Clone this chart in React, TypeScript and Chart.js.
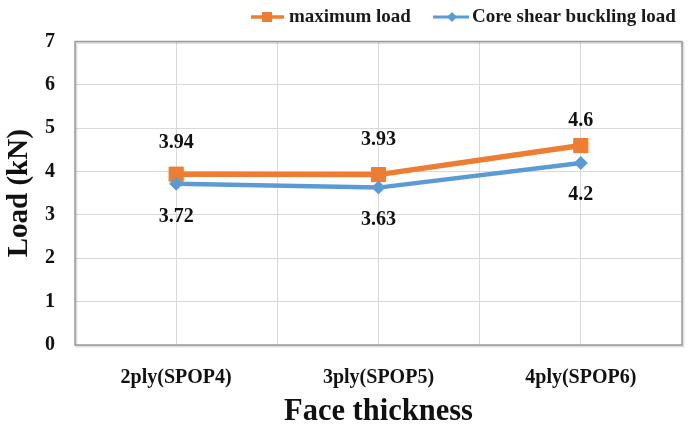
import React, { useEffect, useRef } from "react";
import { Chart, registerables } from "chart.js";

Chart.register(...registerables);

// Specimen groups along the x axis
const categories = ["2ply(SPOP4)", "3ply(SPOP5)", "4ply(SPOP6)"];
// Loads in kN
const maximumLoad = [3.94, 3.93, 4.6];
const coreShearBucklingLoad = [3.72, 3.63, 4.2];
const yTicks = [0, 1, 2, 3, 4, 5, 6, 7];

const ORANGE = "#ED7D31";
const BLUE = "#5B9BD5";
const FONT = "'Liberation Serif', 'Times New Roman', serif";

// Vertical pixel offsets of the value labels from their markers
const maxLabelOffsets = [-31, -35, -25];
const coreLabelOffsets = [33, 32, 32];

const frameAndLabels = {
  id: "frameAndLabels",
  beforeDatasetsDraw(chart: any) {
    const { ctx, chartArea: a } = chart;
    ctx.save();
    // soft shadow of the plot frame
    ctx.strokeStyle = "rgba(0,0,0,0.12)";
    ctx.lineWidth = 2;
    ctx.strokeRect(a.left + 1.5, a.top + 1.5, a.right - a.left, a.bottom - a.top);
    ctx.strokeStyle = "#9b9b9b";
    ctx.lineWidth = 1.5;
    ctx.strokeRect(a.left, a.top, a.right - a.left, a.bottom - a.top);
    ctx.restore();
  },
  afterDatasetsDraw(chart: any) {
    const { ctx } = chart;
    ctx.save();
    ctx.font = `bold 20px ${FONT}`;
    ctx.fillStyle = "#111";
    ctx.textAlign = "center";
    ctx.textBaseline = "middle";
    chart.data.datasets.forEach((ds: any, di: number) => {
      const meta = chart.getDatasetMeta(di);
      const offs = ds.label === "maximum load" ? maxLabelOffsets : coreLabelOffsets;
      meta.data.forEach((pt: any, i: number) => {
        ctx.fillText(String(ds.data[i].y), pt.x, pt.y + offs[i]);
      });
    });
    ctx.restore();
  },
  afterDraw(chart: any) {
    const { ctx } = chart;
    ctx.save();
    const y = 17;
    ctx.font = `bold 19px ${FONT}`;
    ctx.fillStyle = "#1a1a1a";
    ctx.textBaseline = "middle";
    ctx.textAlign = "left";

    // maximum load entry
    ctx.strokeStyle = ORANGE;
    ctx.lineWidth = 3.5;
    ctx.beginPath();
    ctx.moveTo(251, y);
    ctx.lineTo(284, y);
    ctx.stroke();
    ctx.fillStyle = ORANGE;
    ctx.fillRect(262, y - 5, 10, 10);
    ctx.fillStyle = "#1a1a1a";
    ctx.fillText("maximum load", 289, y);

    // core shear buckling entry
    ctx.strokeStyle = BLUE;
    ctx.lineWidth = 3;
    ctx.beginPath();
    ctx.moveTo(433, y);
    ctx.lineTo(469, y);
    ctx.stroke();
    ctx.fillStyle = BLUE;
    ctx.beginPath();
    ctx.moveTo(452, y - 5);
    ctx.lineTo(457, y);
    ctx.lineTo(452, y + 5);
    ctx.lineTo(447, y);
    ctx.closePath();
    ctx.fill();
    ctx.fillStyle = "#1a1a1a";
    ctx.fillText("Core shear buckling load", 472, y);
    ctx.restore();
  },
};

export default function App() {
  const ref = useRef<HTMLCanvasElement | null>(null);

  useEffect(() => {
    if (!ref.current) return;
    const toPoints = (vals: number[]) => vals.map((v, i) => ({ x: i, y: v }));
    const chart = new Chart(ref.current, {
      type: "line",
      data: {
        datasets: [
          {
            label: "Core shear buckling load",
            data: toPoints(coreShearBucklingLoad),
            borderColor: BLUE,
            backgroundColor: BLUE,
            borderWidth: 4.5,
            pointStyle: "rectRot",
            pointRadius: 7,
            pointBorderWidth: 0,
            tension: 0,
          },
          {
            label: "maximum load",
            data: toPoints(maximumLoad),
            borderColor: ORANGE,
            backgroundColor: ORANGE,
            borderWidth: 5.5,
            pointStyle: "rect",
            pointRadius: 10,
            pointBorderWidth: 1,
            tension: 0,
          },
        ],
      },
      options: {
        responsive: false,
        animation: false,
        layout: { padding: { top: 41.5, right: 13, left: 0, bottom: 0 } },
        plugins: {
          legend: { display: false },
          tooltip: { enabled: false },
        },
        scales: {
          x: {
            type: "linear",
            min: -0.5,
            max: 2.5,
            afterFit: (s: any) => {
              s.height = 85;
              s.paddingLeft = 0;
              s.paddingRight = 0;
            },
            afterBuildTicks: (s: any) => {
              s.ticks = [-0.5, 0, 0.5, 1, 1.5, 2, 2.5].map((v) => ({ value: v }));
            },
            ticks: {
              autoSkip: false,
              maxRotation: 0,
              padding: 21,
              color: "#111",
              font: { family: FONT, size: 20, weight: "bold" },
              callback: (v: any) => (Number.isInteger(v) ? categories[v] : ""),
            },
            grid: { color: "#d9d9d9", lineWidth: 1, drawTicks: false },
            border: { display: false },
            title: {
              display: true,
              text: "Face thickness",
              color: "#111",
              font: { family: FONT, size: 30.5, weight: "bold" },
              padding: { top: 0, bottom: 0 },
            },
          },
          y: {
            type: "linear",
            min: 0,
            max: 7,
            afterFit: (s: any) => {
              s.width = 75;
              s.paddingTop = 0;
              s.paddingBottom = 0;
            },
            afterBuildTicks: (s: any) => {
              s.ticks = yTicks.map((v) => ({ value: v }));
            },
            ticks: {
              padding: 20,
              color: "#111",
              font: { family: FONT, size: 20, weight: "bold" },
            },
            grid: { color: "#d9d9d9", lineWidth: 1, drawTicks: false },
            border: { display: false },
            title: {
              display: true,
              text: "Load (kN)",
              color: "#111",
              font: { family: FONT, size: 29, weight: "bold" },
              padding: { top: 2, bottom: 0 },
            },
          },
        },
      },
      plugins: [frameAndLabels],
    });
    return () => chart.destroy();
  }, []);

  return (
    <div style={{ position: "fixed", left: 0, top: 0, width: 695, height: 430, background: "#fff" }}>
      <canvas ref={ref} width={695} height={430} />
    </div>
  );
}
